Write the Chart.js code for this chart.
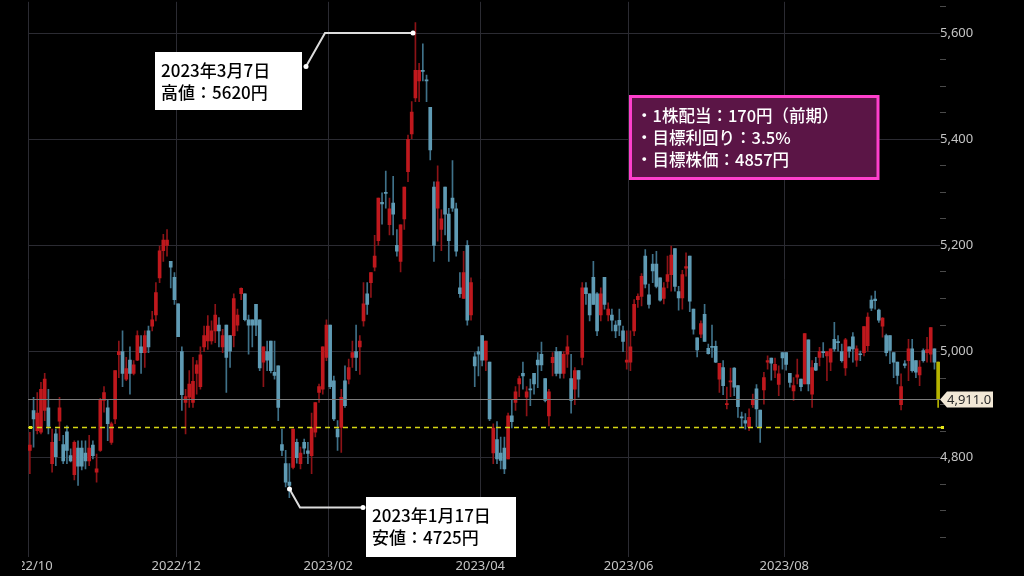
<!DOCTYPE html>
<html>
<head>
<meta charset="utf-8">
<script src="https://cdn.jsdelivr.net/npm/chart.js@4.4.1/dist/chart.umd.min.js"></script>
<style>
  html, body { margin: 0; padding: 0; background: #000; }
  canvas { display: block; }
</style>
</head>
<body>
<canvas id="stage" width="1024" height="576"></canvas>
<script>
// 日足 (2022/10/03 〜 2023/09/29)
const opens = [
  4814,4889,4851,4848,4889,4894,4789,4845,4869,4825,4849,4804,4768,4818,4818,4809,4794,4824,4773,4814,
  4908,4894,4829,4873,4994,5000,4948,4984,4959,4984,5009,4998,5039,5048,5069,5139,5190,5200,5170,5140,
  5090,5000,4904,4914,4904,4959,4934,5009,5020,5020,5039,5050,5009,5050,5030,5030,5050,5109,5109,5060,
  5060,5089,5060,4980,5000,5020,4961,4973,4825,4789,4754,4782,4829,4789,4829,4813,4804,4848,4923,4929,
  4989,5050,4945,4854,4857,4945,4948,4989,5000,5009,5058,5109,5130,5159,5209,5281,5300,5239,5280,5200,
  5170,5250,5339,5410,5478,5510,5530,5512,5460,5310,5270,5230,5310,5259,5289,5269,5120,5100,5200,5069,
  4990,5000,5030,4984,4980,4809,4834,4809,4818,4798,4879,4904,4939,4959,4914,4929,4959,4984,4995,4949,
  4879,4979,5000,5000,4959,4995,4949,4929,4964,4989,5120,5109,5140,5109,5069,5140,5069,5069,5050,5059,
  5039,4980,4980,5039,5098,5104,5180,5107,5165,5165,5139,5100,5132,5145,5194,5113,5101,5157,5180,5080,
  5026,5033,5070,5006,5010,5010,4948,4970,4900,4943,4969,4936,4877,4870,4858,4900,4930,4890,4928,4980,
  4988,4965,4938,4998,4998,4959,4926,4952,4948,4939,5022,4920,4978,4989,5000,4992,4980,5023,5019,5000,
  4969,5009,5028,4984,4996,4998,5011,5097,5099,5078,5048,5030,5030,4998,4980,4900,4977,4983,5005,4983,
  4956,5002,4998,4995,5005,4980
];
const highs = [
  4848,4914,4923,4942,4959,4929,4854,4854,4914,4842,4860,4817,4832,4832,4832,4832,4842,4832,4807,4912,
  4934,4908,4867,4964,5020,5039,4989,5009,4983,5039,5030,5039,5048,5076,5130,5199,5221,5230,5170,5149,
  5090,5009,4929,4964,4989,4983,5009,5048,5068,5058,5089,5064,5042,5050,5030,5109,5080,5120,5109,5069,
  5060,5089,5060,5009,5020,5020,5020,4973,4854,4814,4789,4854,4835,4820,4835,4829,4884,4904,4939,5009,
  5060,5050,4954,4870,4929,4973,4986,5020,5050,5030,5130,5130,5149,5219,5289,5299,5340,5289,5330,5230,
  5239,5310,5408,5471,5620,5543,5580,5521,5460,5320,5350,5267,5310,5270,5360,5280,5149,5189,5209,5139,
  4998,5009,5030,5020,4980,4864,4868,4839,4839,4884,4909,4934,4954,4980,4934,4948,4959,4998,5018,4949,
  4929,4998,5008,5000,5000,5030,4995,4970,4964,5130,5130,5109,5170,5111,5120,5140,5092,5080,5058,5080,
  5048,5039,5039,5098,5109,5147,5192,5127,5183,5189,5139,5130,5180,5199,5194,5123,5153,5186,5180,5080,
  5026,5058,5089,5014,5050,5020,4978,4983,4933,4969,4970,4936,4886,4883,4892,4920,4938,4890,4961,4992,
  4988,4988,4973,4998,4998,4959,4951,4986,4948,5034,5022,4983,4989,5008,5017,5000,5005,5055,5030,5014,
  5025,5009,5036,5011,5001,5047,5073,5105,5114,5080,5064,5033,5030,4998,4980,4958,4983,5023,5023,4983,
  4983,5005,5027,5045,5005,4980
];
const lows = [
  4770,4820,4845,4845,4870,4845,4773,4785,4832,4789,4789,4792,4758,4748,4777,4779,4785,4798,4754,4812,
  4886,4832,4825,4864,4951,4934,4945,4920,4956,4983,4959,4970,4998,5039,5058,5130,5170,5180,5120,5089,
  5028,4889,4845,4895,4895,4920,4929,5000,5004,5014,5017,5009,4998,4923,4970,5009,5039,5098,5058,4995,
  5009,5030,4964,4934,4964,4960,4948,4870,4804,4745,4725,4779,4790,4779,4807,4789,4770,4839,4904,4920,
  4983,4930,4870,4814,4810,4895,4939,4970,4964,4957,5048,5070,5102,5152,5200,5240,5270,5220,5220,5180,
  5150,5230,5320,5401,5471,5471,5510,5471,5361,5170,5208,5190,5220,5170,5264,5180,5102,5100,5050,5059,
  4934,4954,4973,4964,4870,4789,4789,4779,4770,4798,4856,4889,4915,4929,4879,4898,4920,4932,4964,4905,
  4860,4954,4954,4950,4950,4970,4884,4900,4914,4975,5089,5058,5089,5030,5058,5080,5058,5039,5026,5030,
  5000,4967,4964,5030,5083,5086,5120,5082,5130,5120,5095,5090,5120,5114,5114,5078,5080,5142,5075,5033,
  4990,5026,5019,4995,4989,4979,4923,4919,4892,4915,4917,4876,4858,4854,4851,4895,4858,4829,4901,4967,
  4946,4951,4917,4967,4965,4933,4908,4939,4926,4939,4926,4895,4964,4973,4989,4945,4964,5001,5001,4980,
  4955,4989,4980,4972,4983,4992,5001,5077,5080,5055,5027,4992,4977,4951,4939,4890,4969,4945,4961,4951,
  4936,4980,4980,4980,4967,4895
];
const closes = [
  4824,4873,4884,4929,4948,4859,4829,4802,4894,4794,4814,4794,4829,4784,4784,4794,4818,4804,4779,4909,
  4923,4864,4864,4964,5000,4959,4968,4959,4975,5030,4998,5030,5009,5060,5111,5190,5210,5210,5159,5098,
  5028,4919,4915,4939,4944,4975,4994,5030,5048,5039,5069,5039,5030,4989,5001,5100,5069,5119,5060,5050,
  5050,5050,4969,5009,4984,4964,4955,4895,4814,4754,4748,4854,4800,4809,4818,4808,4857,4904,4934,5009,
  5050,4934,4873,4839,4914,4898,4970,4998,4989,5020,5090,5089,5149,5180,5289,5278,5298,5269,5259,5189,
  5239,5310,5400,5451,5530,5530,5528,5510,5380,5200,5320,5250,5259,5209,5270,5189,5109,5149,5059,5130,
  4973,4995,4984,5020,4873,4856,4798,4795,4779,4879,4868,4924,4949,4954,4924,4928,4939,4975,4975,4908,
  4924,4989,4959,4959,4995,5009,4908,4964,4948,5120,5109,5069,5089,5039,5109,5089,5080,5059,5039,5050,
  5019,4984,5009,5089,5104,5142,5127,5089,5152,5123,5097,5120,5145,5182,5123,5101,5145,5160,5095,5042,
  5003,5053,5019,4996,5008,4980,4978,4936,4902,4945,4933,4896,4875,4865,4876,4910,4892,4858,4951,4983,
  4978,4976,4958,4988,4976,4942,4936,4956,4934,5034,4939,4970,4965,5000,4998,5000,5005,5005,5017,4983,
  5022,5001,5005,5005,4994,5047,5065,5082,5096,5059,5063,4998,5002,4980,4955,4934,4974,5005,4964,4961,
  4971,4983,5004,5045,4980,4911
];

// 目盛り
const monthStarts = [0, 40, 81, 122, 162, 204];
const monthLabels = ['2022/10', '2022/12', '2023/02', '2023/04', '2023/06', '2023/08'];
const priceLabels = [4800, 5000, 5200, 5400, 5600];
const lastPrice = 4911.0;
const targetPrice = 4857;

// 注記
const highNote = ['2023年3月7日', '高値：5620円'];
const lowNote = ['2023年1月17日', '安値：4725円'];
const infoLines = ['・1株配当：170円（前期）', '・目標利回り：3.5%', '・目標株価：4857円'];

const UP = '#bf181d', UP_WICK = '#8c1317';
const DOWN = '#5f9bb4', DOWN_WICK = '#3f7189';
const LAST = '#b5b300';

const n = closes.length;
const bodyColors = closes.map((c, i) => i === n - 1 ? LAST : (c >= opens[i] ? UP : DOWN));
const wickColors = closes.map((c, i) => i === n - 1 ? LAST : (c >= opens[i] ? UP_WICK : DOWN_WICK));

const wickData = highs.map((h, i) => ({ x: i, y: [lows[i], h] }));
const bodyData = closes.map((c, i) => ({ x: i, y: [Math.min(opens[i], c), Math.max(opens[i], c)] }));

const CJK = '"Noto Sans CJK JP", "Noto Sans", sans-serif';

function drawNoteBox(ctx, x, y, w, h, lines) {
  ctx.fillStyle = '#ffffff';
  ctx.fillRect(x, y, w, h);
  ctx.fillStyle = '#000000';
  ctx.font = '500 17px ' + CJK;
  ctx.textAlign = 'left';
  ctx.textBaseline = 'alphabetic';
  ctx.fillText(lines[0], x + 6, y + 25);
  ctx.fillText(lines[1], x + 6, y + 47);
}

function dot(ctx, x, y) {
  ctx.beginPath();
  ctx.arc(x, y, 2.5, 0, Math.PI * 2);
  ctx.fill();
}

const overlay = {
  id: 'overlay',
  afterDatasetsDraw(chart) {
    const ctx = chart.ctx;
    const area = chart.chartArea;
    const xs = chart.scales.x, ys = chart.scales.y;
    ctx.save();

    // 現在値ライン
    const yLast = Math.round(ys.getPixelForValue(lastPrice)) + 0.5;
    ctx.strokeStyle = '#7c7c7c';
    ctx.lineWidth = 1;
    ctx.beginPath();
    ctx.moveTo(area.left, yLast);
    ctx.lineTo(area.right, yLast);
    ctx.stroke();

    // 目標株価ライン
    const yT = ys.getPixelForValue(targetPrice);
    ctx.strokeStyle = '#d6d614';
    ctx.lineWidth = 1.6;
    ctx.setLineDash([5, 4]);
    ctx.beginPath();
    ctx.moveTo(area.left, yT);
    ctx.lineTo(area.right + 2, yT);
    ctx.stroke();
    ctx.setLineDash([]);
    ctx.fillStyle = '#e6e61a';
    ctx.fillRect(area.left + 1, yT - 1.5, 3, 3);
    ctx.fillRect(area.right + 1, yT - 1.5, 3, 3);

    // 価格タグ
    ctx.fillStyle = '#f2e8d6';
    ctx.beginPath();
    ctx.moveTo(area.right, yLast);
    ctx.lineTo(area.right + 7, yLast - 8);
    ctx.lineTo(area.right + 53, yLast - 8);
    ctx.lineTo(area.right + 53, yLast + 8);
    ctx.lineTo(area.right + 7, yLast + 8);
    ctx.closePath();
    ctx.fill();
    ctx.fillStyle = '#2a2a2a';
    ctx.font = '13px "Noto Sans", sans-serif';
    ctx.textAlign = 'left';
    ctx.textBaseline = 'middle';
    ctx.fillText(lastPrice.toLocaleString('en-US', { minimumFractionDigits: 1 }), area.right + 7, yLast + 1);

    // 月ラベル
    ctx.save();
    ctx.beginPath();
    ctx.rect(22, area.bottom, chart.width, chart.height - area.bottom);
    ctx.clip();
    ctx.fillStyle = '#c4c4c4';
    ctx.font = '13px "Noto Sans", sans-serif';
    ctx.textAlign = 'center';
    ctx.textBaseline = 'middle';
    monthStarts.forEach((m, k) => {
      ctx.fillText(monthLabels[k], xs.getPixelForValue(m - 0.5), area.bottom + 9);
    });
    ctx.restore();

    // 高値の吹き出し
    ctx.strokeStyle = '#dcdcdc';
    ctx.fillStyle = '#ffffff';
    ctx.lineWidth = 2;
    ctx.beginPath();
    ctx.moveTo(306, 66.5);
    ctx.lineTo(325, 33);
    ctx.lineTo(413, 33);
    ctx.stroke();
    dot(ctx, 306, 66.5);
    dot(ctx, 413, 33);
    drawNoteBox(ctx, 155, 52, 147, 58, highNote);

    // 安値の吹き出し
    ctx.strokeStyle = '#dcdcdc';
    ctx.fillStyle = '#ffffff';
    ctx.beginPath();
    ctx.moveTo(289.5, 489);
    ctx.lineTo(300, 507.5);
    ctx.lineTo(363, 507.5);
    ctx.stroke();
    dot(ctx, 289.5, 489);
    dot(ctx, 363, 507.5);
    drawNoteBox(ctx, 366, 497, 150, 60, lowNote);

    // 配当情報
    ctx.fillStyle = '#5b1546';
    ctx.fillRect(630.5, 96.5, 247.5, 82);
    ctx.strokeStyle = '#ff3fcc';
    ctx.lineWidth = 3;
    ctx.strokeRect(630.5, 96.5, 247.5, 82);
    ctx.fillStyle = '#ffffff';
    ctx.font = '500 16.5px ' + CJK;
    ctx.textAlign = 'left';
    ctx.textBaseline = 'alphabetic';
    infoLines.forEach((t, k) => ctx.fillText(t, 636, 122 + k * 22));

    ctx.restore();
  }
};

new Chart(document.getElementById('stage'), {
  type: 'bar',
  data: {
    datasets: [
      {
        label: 'wick',
        data: wickData,
        backgroundColor: wickColors,
        barThickness: 1,
        grouped: false,
        order: 2
      },
      {
        label: 'body',
        data: bodyData,
        backgroundColor: bodyColors,
        barThickness: 3,
        minBarLength: 1,
        grouped: false,
        order: 1
      }
    ]
  },
  options: {
    responsive: false,
    animation: false,
    devicePixelRatio: 1,
    layout: { padding: { left: 28, top: 0, right: 0, bottom: 0 } },
    plugins: { legend: { display: false }, tooltip: { enabled: false } },
    scales: {
      x: {
        type: 'linear',
        min: -0.5,
        max: n - 0.5,
        offset: false,
        afterBuildTicks: s => { s.ticks = monthStarts.map(m => ({ value: m - 0.5 })); },
        afterFit: s => { s.height = 19; },
        grid: { color: '#2b2b32', lineWidth: 1, drawTicks: false, offset: false },
        border: { display: false },
        ticks: { display: false }
      },
      y: {
        position: 'right',
        min: 4613,
        max: 5659,
        afterBuildTicks: s => {
          const t = [];
          for (let v = 4650; v <= 5650; v += 50) t.push({ value: v });
          s.ticks = t;
        },
        afterFit: s => { s.width = 84; },
        grid: {
          color: c => priceLabels.includes(c.tick.value) ? '#2b2b32' : 'rgba(0,0,0,0)',
          tickColor: c => priceLabels.includes(c.tick.value) ? 'rgba(0,0,0,0)' : '#4a4a4a',
          drawTicks: true,
          tickLength: 6
        },
        border: { display: false },
        ticks: {
          autoSkip: false,
          padding: -6,
          color: '#c4c4c4',
          font: { family: 'Noto Sans', size: 13 },
          callback: v => priceLabels.includes(v) ? v.toLocaleString('en-US') : ''
        }
      }
    }
  },
  plugins: [overlay]
});
</script>
</body>
</html>
